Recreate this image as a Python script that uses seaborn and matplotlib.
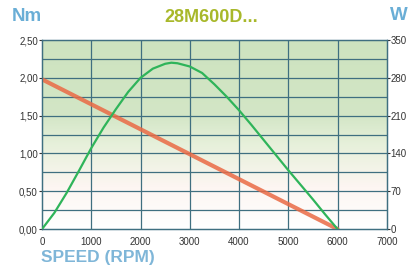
import numpy as np
import pandas as pd
import seaborn as sns
import matplotlib.pyplot as plt
from matplotlib.colors import LinearSegmentedColormap

# data
speed_torque = [0, 6000]
torque_nm = [1.98, 0.0]

speed_power = [0, 250, 500, 750, 1000, 1250, 1500, 1750, 2000, 2250, 2500, 2625, 2750,
               3000, 3250, 3500, 3750, 4000, 4250, 4500, 4750, 5000, 5250, 5500, 5750, 6000]
power_w = [0, 30, 67, 108, 150, 188, 222, 254, 280, 297, 306, 308, 307,
           301, 289, 268, 245, 220, 193, 165, 137, 109, 82, 55, 27, 0]

x_ticks = [0, 1000, 2000, 3000, 4000, 5000, 6000, 7000]
nm_ticks = [0.0, 0.5, 1.0, 1.5, 2.0, 2.5]
w_ticks = [0, 70, 140, 210, 280, 350]

sns.set_style("white")
plt.rcParams['font.family'] = ['Liberation Sans', 'DejaVu Sans']

grid_col = "#3f6f80"
fig = plt.figure(figsize=(4.08, 2.76), dpi=100)
ax = fig.add_axes([0.103, 0.170, 0.845, 0.685])

# green to white background
cmap = LinearSegmentedColormap.from_list("bg", [(0.0, "#ffffff"), (0.22, "#fdf6f2"),
                                                (0.45, "#e6f0da"), (0.6, "#d3e6c6"), (1.0, "#cde3bf")])
grad = np.linspace(0, 1, 256).reshape(-1, 1)
ax.imshow(grad, extent=[0, 7000, 0, 2.5], origin="lower", aspect="auto", cmap=cmap, zorder=0)

ax.set_xlim(0, 7000)
ax.set_ylim(0, 2.5)
ax.set_xticks(x_ticks)
ax.set_yticks(nm_ticks)
ax.set_yticklabels([f"{v:.2f}".replace(".", ",") for v in nm_ticks])
for v in np.arange(0.25, 2.5, 0.25):
    ax.axhline(v, color=grid_col, lw=0.9, zorder=1)
for v in x_ticks[1:-1]:
    ax.axvline(v, color=grid_col, lw=0.9, zorder=1)

sns.lineplot(x=speed_torque, y=torque_nm, ax=ax, color="#ea6a45", lw=3.0, alpha=0.85, zorder=3)

ax2 = ax.twinx()
ax2.set_ylim(0, 350)
ax2.set_yticks(w_ticks)
sns.lineplot(x=speed_power, y=power_w, ax=ax2, color="#2fb45a", lw=1.6, zorder=4)
ax2.set_xlim(0, 7000)

for a in (ax, ax2):
    for s in a.spines.values():
        s.set_color(grid_col)
        s.set_linewidth(0.9)
    a.tick_params(labelsize=7, colors="#333333", length=2, pad=1)
    a.set_xlabel("")
    a.set_ylabel("")
ax.tick_params(axis="x", pad=4)
ax2.tick_params(axis="y", pad=0.5)

fig.text(0.03, 0.94, "Nm", color="#6aaed6", fontsize=13.5, fontweight="bold", va="center")
fig.text(0.955, 0.945, "W", color="#6aaed6", fontsize=13.5, fontweight="bold", va="center")
fig.text(0.518, 0.935, "28M600D...", color="#a8b82a", fontsize=13, fontweight="bold",
         ha="center", va="center")
fig.text(0.10, 0.068, "SPEED (RPM)", color="#7fb6d8", fontsize=12.5, fontweight="bold", va="center")

plt.savefig("out.png", dpi=100)
